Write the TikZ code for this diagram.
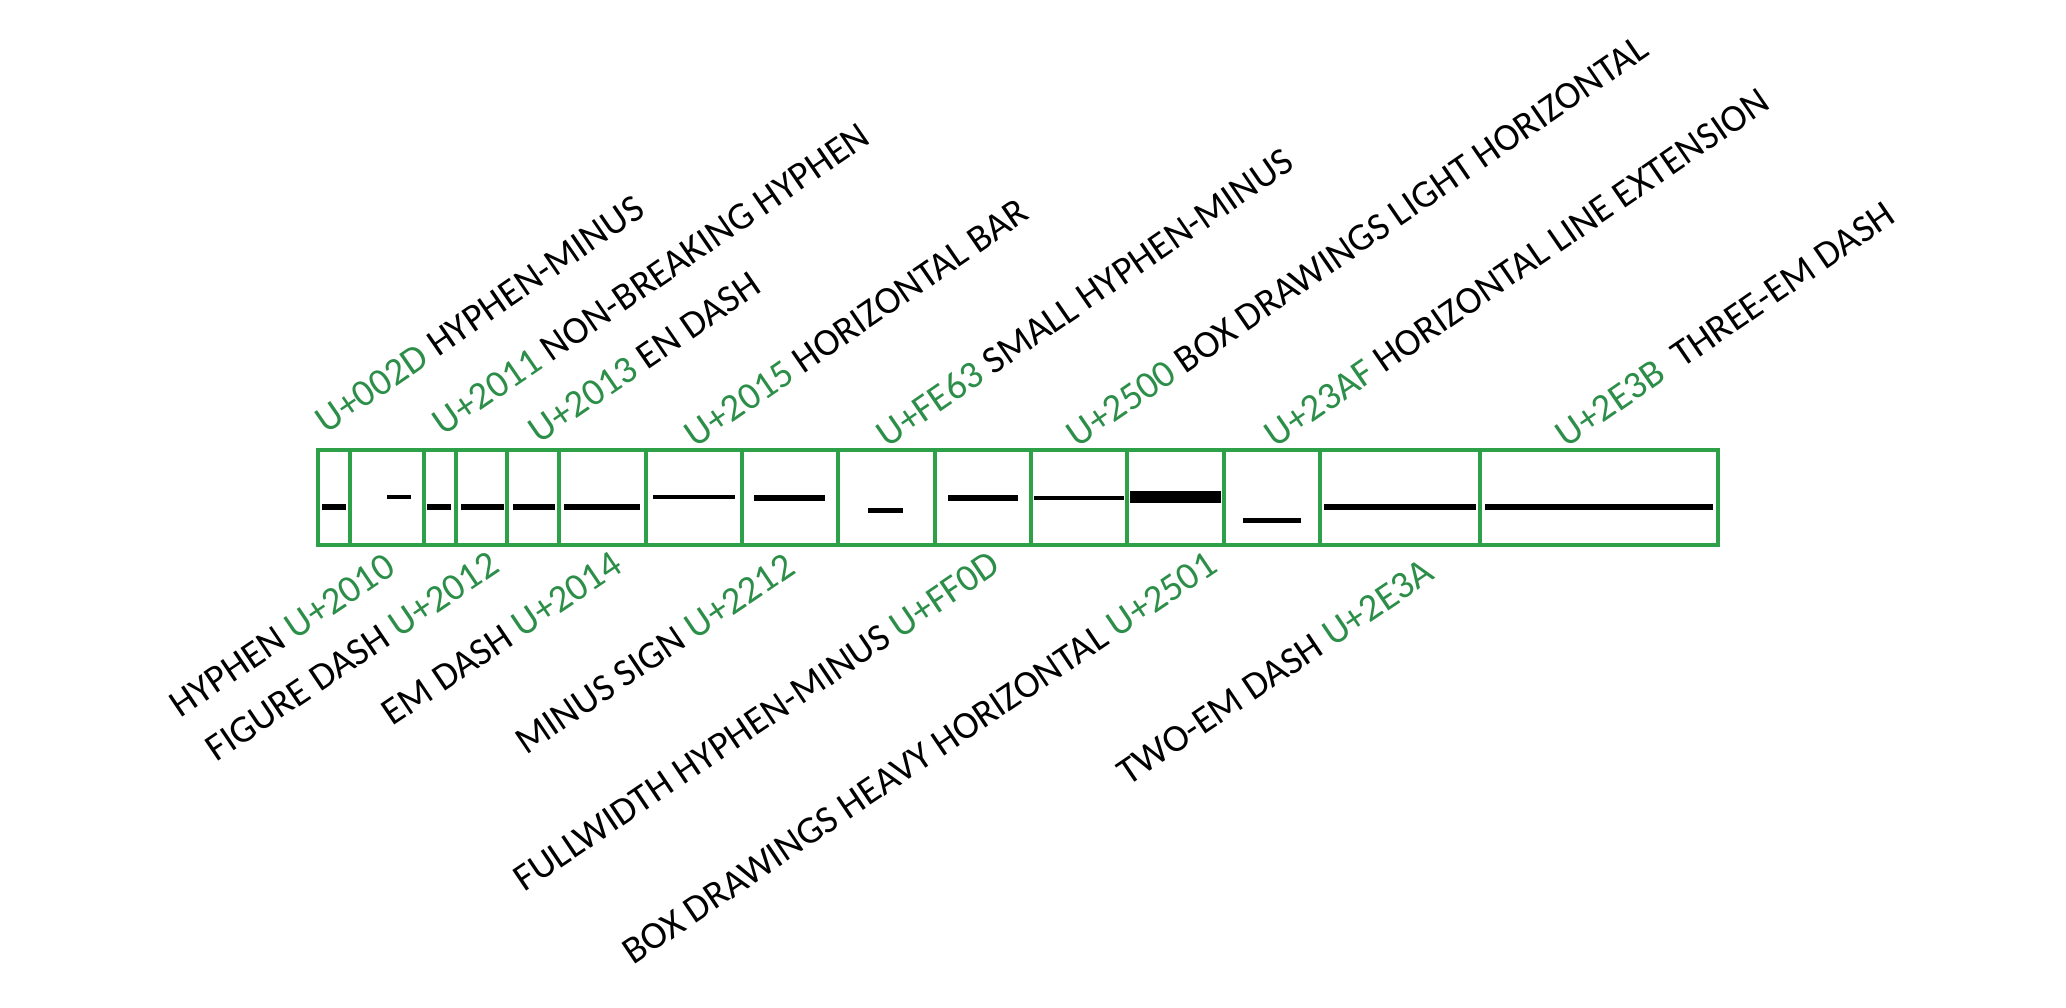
\documentclass[tikz,border=0pt]{standalone}
\usepackage{fontspec}
\setmainfont{Carlito}
\usepackage{xcolor}
\usepackage{tikz}
\usetikzlibrary{positioning}
\definecolor{boxGreen}{RGB}{46, 160, 72}
\definecolor{codeGreen}{RGB}{44, 142, 72}

\begin{document}
\begin{tikzpicture}[
    cell/.style={boxGreen, line width=1.2pt},
    glyph/.style={black, line width=#1},
    uplabel/.style={rotate=34.5, anchor=base west, inner sep=0pt, font=\fontsize{11}{13}\selectfont},
    downlabel/.style={rotate=34, anchor=base east, inner sep=0pt, font=\fontsize{11}{13}\selectfont}
]
    \useasboundingbox (0,0) rectangle (20.66,10.08);

    % the strip of cells
    \draw[cell] (3.18,4.63) rectangle (17.18,5.58);
    \draw[cell] (3.50,4.63) -- (3.50,5.58);
    \draw[cell] (4.24,4.63) -- (4.24,5.58);
    \draw[cell] (4.56,4.63) -- (4.56,5.58);
    \draw[cell] (5.07,4.63) -- (5.07,5.58);
    \draw[cell] (5.59,4.63) -- (5.59,5.58);
    \draw[cell] (6.46,4.63) -- (6.46,5.58);
    \draw[cell] (7.42,4.63) -- (7.42,5.58);
    \draw[cell] (8.38,4.63) -- (8.38,5.58);
    \draw[cell] (9.35,4.63) -- (9.35,5.58);
    \draw[cell] (10.31,4.63) -- (10.31,5.58);
    \draw[cell] (11.27,4.63) -- (11.27,5.58);
    \draw[cell] (12.24,4.63) -- (12.24,5.58);
    \draw[cell] (13.20,4.63) -- (13.20,5.58);
    \draw[cell] (14.80,4.63) -- (14.80,5.58);

    % one dash per cell
    \draw[glyph=0.057cm] (3.22,5.01) -- (3.46,5.01);
    \draw[glyph=0.040cm] (3.87,5.11) -- (4.11,5.11);
    \draw[glyph=0.057cm] (4.27,5.01) -- (4.51,5.01);
    \draw[glyph=0.053cm] (4.61,5.01) -- (5.04,5.01);
    \draw[glyph=0.053cm] (5.13,5.01) -- (5.55,5.01);
    \draw[glyph=0.053cm] (5.64,5.01) -- (6.40,5.01);
    \draw[glyph=0.040cm] (6.53,5.11) -- (7.35,5.11);
    \draw[glyph=0.067cm] (7.54,5.10) -- (8.25,5.10);
    \draw[glyph=0.050cm] (8.68,4.97) -- (9.03,4.97);
    \draw[glyph=0.067cm] (9.48,5.10) -- (10.18,5.10);
    \draw[glyph=0.033cm] (10.34,5.10) -- (11.24,5.10);
    \draw[glyph=0.117cm] (11.30,5.11) -- (12.21,5.11);
    \draw[glyph=0.050cm] (12.43,4.87) -- (13.01,4.87);
    \draw[glyph=0.053cm] (13.24,5.01) -- (14.76,5.01);
    \draw[glyph=0.053cm] (14.85,5.01) -- (17.13,5.01);

    % names above the strip
    \node[uplabel] (lab002D) at (3.26,5.73) {\textcolor{codeGreen}{U+002D} HYPHEN-MINUS};
    \node[uplabel] (lab2011) at (4.43,5.71) {\textcolor{codeGreen}{U+2011} NON-BREAKING HYPHEN};
    \node[uplabel] (lab2013) at (5.39,5.63) {\textcolor{codeGreen}{U+2013} EN DASH};
    \node[uplabel] (lab2015) at (6.95,5.59) {\textcolor{codeGreen}{U+2015} HORIZONTAL BAR};
    \node[uplabel] (labFE63) at (8.87,5.59) {\textcolor{codeGreen}{U+FE63} SMALL HYPHEN-MINUS};
    \node[uplabel] (lab2500) at (10.77,5.59) {\textcolor{codeGreen}{U+2500} BOX DRAWINGS LIGHT HORIZONTAL};
    \node[uplabel] (lab23AF) at (12.75,5.59) {\textcolor{codeGreen}{U+23AF} HORIZONTAL LINE EXTENSION};
    \node[uplabel] (lab2E3B) at (15.66,5.59) {\textcolor{codeGreen}{U+2E3B}\ \ THREE-EM DASH};

    % names below the strip
    \node[downlabel] (lab2010) at (3.98,4.36) {HYPHEN \textcolor{codeGreen}{U+2010}};
    \node[downlabel] (lab2012) at (5.02,4.38) {FIGURE DASH \textcolor{codeGreen}{U+2012}};
    \node[downlabel] (lab2014) at (6.25,4.38) {EM DASH \textcolor{codeGreen}{U+2014}};
    \node[downlabel] (lab2212) at (7.98,4.36) {MINUS SIGN \textcolor{codeGreen}{U+2212}};
    \node[downlabel] (labFF0D) at (10.03,4.38) {FULLWIDTH HYPHEN-MINUS \textcolor{codeGreen}{U+FF0D}};
    \node[downlabel] (lab2501) at (12.20,4.38) {BOX DRAWINGS HEAVY HORIZONTAL \textcolor{codeGreen}{U+2501}};
    \node[downlabel] (lab2E3A) at (14.37,4.30) {TWO-EM DASH \textcolor{codeGreen}{U+2E3A}};
\end{tikzpicture}
\end{document}
